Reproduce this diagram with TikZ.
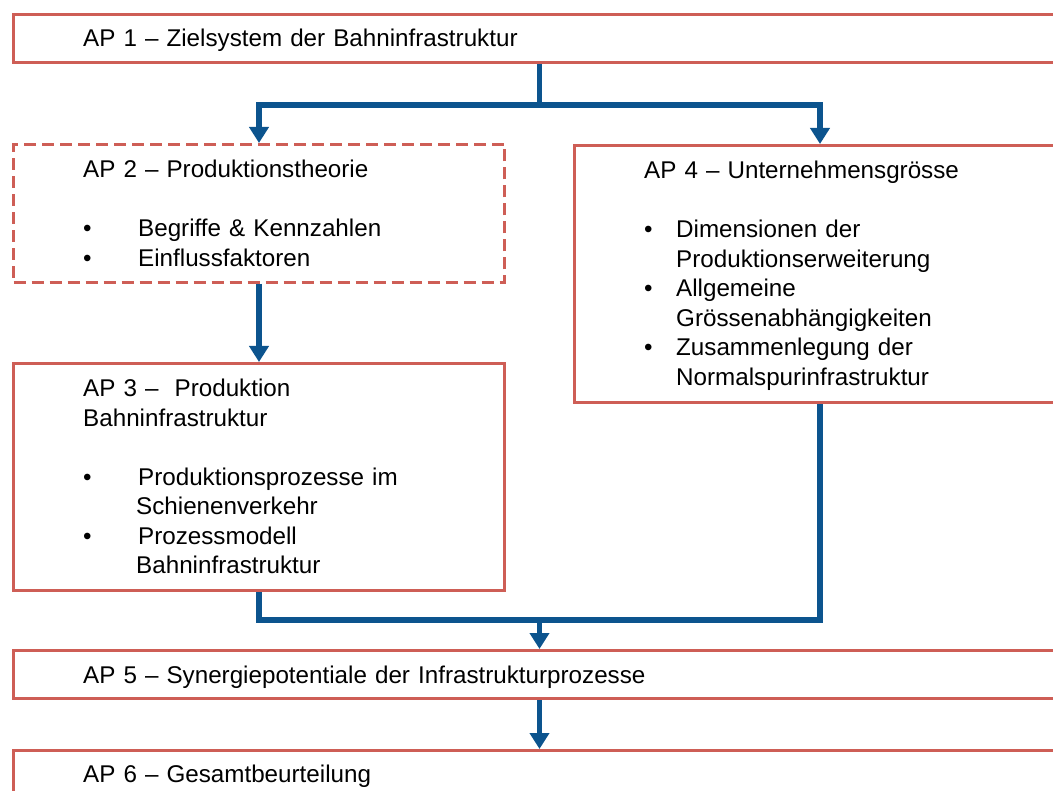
\documentclass[tikz,border=0pt]{standalone}
\usepackage{fontspec}
\setmainfont{Liberation Sans}
\usepackage{tikz}
\usetikzlibrary{positioning,arrows.meta}
\usepackage{xcolor}

\definecolor{apred}{RGB}{206,94,86}
\definecolor{apblue}{RGB}{12,84,142}
\newcommand{\apitem}[2]{\makebox[#1][l]{•}#2}

\begin{document}
\begin{tikzpicture}[x=1pt,y=-1pt]
    \tikzstyle{box} = [rectangle, draw=apred, line width=3pt, anchor=north west,
               inner sep=0pt]
    \tikzstyle{txt} = [anchor=base west, align=left, inner sep=0pt,
               text width=950pt,
               font=\fontsize{24.2}{29.5}\selectfont]
    \tikzstyle{line} = [draw=apblue, line width=5.5pt]
    \tikzstyle{arrow} = [line, -{Triangle[length=16pt,width=19pt]}]

    \clip (0,0) rectangle (1053,791);

    % Define boxes
    \node[box, minimum width=1052pt, minimum height=48pt] (ap1) at (12,13) {};
    \node[box, dash pattern=on 12pt off 6pt, minimum width=491pt,
      minimum height=138pt] (ap2) at (12,143) {};
    \node[box, minimum width=491pt, minimum height=227pt] (ap3) at (12,362) {};
    \node[box, minimum width=491pt, minimum height=257pt] (ap4) at (573,144) {};
    \node[box, minimum width=1052pt, minimum height=48pt] (ap5) at (12,649) {};
    \node[box, minimum width=1052pt, minimum height=48pt] (ap6) at (12,749) {};

    % Texts
    \node[txt] (t1) at ([shift={(71,34)}]ap1.north west)
      {AP 1 – Zielsystem der Bahninfrastruktur};
    \node[txt] (t2) at ([shift={(71,35)}]ap2.north west)
      {AP 2 – Produktionstheorie\\[29.5pt]
       \apitem{55pt}{Begriffe \& Kennzahlen}\\
       \apitem{55pt}{Einflussfaktoren}};
    \node[txt] (t3) at ([shift={(71,35)}]ap3.north west)
      {AP 3 –\ \ Produktion\\
       Bahninfrastruktur\\[29.5pt]
       \apitem{55pt}{Produktionsprozesse im}\\
       \hspace*{53pt}Schienenverkehr\\
       \apitem{55pt}{Prozessmodell}\\
       \hspace*{53pt}Bahninfrastruktur};
    \node[txt] (t4) at ([shift={(71,35)}]ap4.north west)
      {AP 4 – Unternehmensgrösse\\[29.5pt]
       \apitem{32pt}{Dimensionen der}\\
       \hspace*{32pt}Produktionserweiterung\\
       \apitem{32pt}{Allgemeine}\\
       \hspace*{32pt}Grössenabhängigkeiten\\
       \apitem{32pt}{Zusammenlegung der}\\
       \hspace*{32pt}Normalspurinfrastruktur};
    \node[txt] (t5) at ([shift={(71,34)}]ap5.north west)
      {AP 5 – Synergiepotentiale der Infrastrukturprozesse};
    \node[txt] (t6) at ([shift={(71,33)}]ap6.north west)
      {AP 6 – Gesamtbeurteilung};

    % Connectors
    \coordinate[below=41pt of ap1.south] (split);
    \coordinate[above=29pt of ap5.north] (merge);
    \draw[line] (ap1.south) -- (split);
    \draw[arrow] (split) -| (ap2.north);
    \draw[arrow] (split) -| (ap4.north);
    \draw[arrow] (ap2.south) -- (ap3.north);
    \draw[line] (ap3.south) |- (merge) -| (ap4.south);
    \draw[arrow] (merge) -- (ap5.north);
    \draw[arrow] (ap5.south) -- (ap6.north);
\end{tikzpicture}
\end{document}
